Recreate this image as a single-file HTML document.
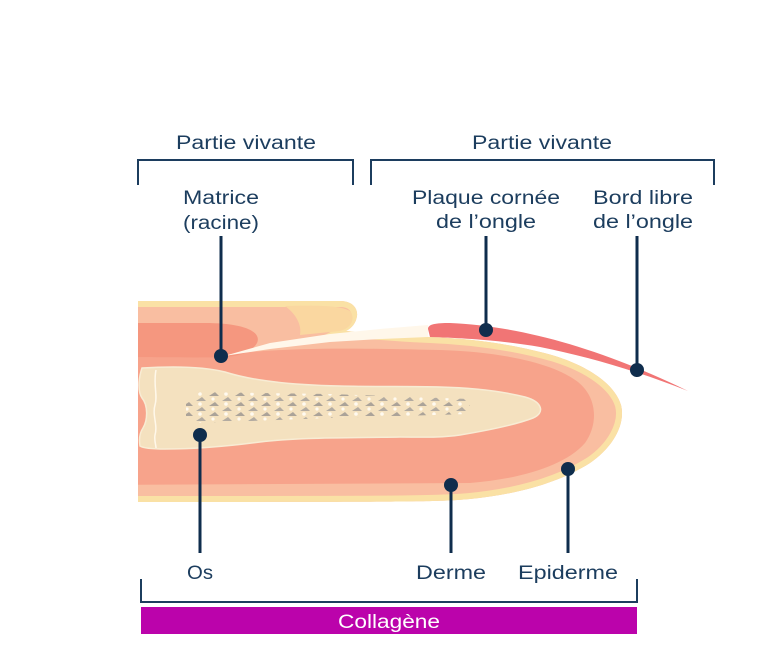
<!DOCTYPE html>
<html><head><meta charset="utf-8"><style>
html,body{margin:0;padding:0;background:#fff;}
svg{display:block;}
text{font-family:"Liberation Sans",Arial,sans-serif;}
</style></head><body>
<svg width="783" height="649" viewBox="0 0 783 649" xmlns="http://www.w3.org/2000/svg">
<defs>
<clipPath id="cut"><rect x="138" y="280" width="600" height="240"/></clipPath>
<clipPath id="bodyc"><path d="M100,301 L340,301 C352,301 358,308 357,316 C356,323 352,328 346,331 C380,334 400,336 430,337 C480,339 520,346 555,356 C590,367 615,385 621,405 C626,425 612,448 590,463 C560,482 520,494 470,499 C440,502 400,502 100,502 Z"/></clipPath>
<pattern id="sp" width="26" height="10" patternUnits="userSpaceOnUse">
<polygon points="1,6 7,2 11,6" fill="#aba399"/>
<circle cx="18" cy="4" r="1.8" fill="#fffaf0"/>
</pattern>
<pattern id="sp2" width="26" height="10" patternUnits="userSpaceOnUse" x="13" y="5">
<polygon points="1,6 7,2 11,6" fill="#b3aba1"/>
<circle cx="18" cy="4" r="1.6" fill="#fffaf0"/>
</pattern>
<clipPath id="spc"><polygon points="186,402 200,392 330,394 470,399 470,414 330,418 200,423 186,417"/></clipPath>
</defs>

<g clip-path="url(#cut)">
  <path d="M100,301 L340,301 C352,301 358,308 357,316 C356,323 352,328 346,331 C380,334 400,336 430,337 C480,339 520,346 555,356 C590,367 615,385 621,405 C626,425 612,448 590,463 C560,482 520,494 470,499 C440,502 400,502 100,502 Z" fill="#f9bea1"/>
  <g clip-path="url(#bodyc)">
    <path d="M100,301 L340,301 C352,301 358,308 357,316 C356,323 352,328 346,331 C380,334 400,336 430,337 C480,339 520,346 555,356 C590,367 615,385 621,405 C626,425 612,448 590,463 C560,482 520,494 470,499 C440,502 400,502 100,502 Z" fill="none" stroke="#fae1a5" stroke-width="12"/>
    <path d="M285,306 C320,305 345,306 351,312 C355,320 351,328 340,331 L300,335 C302,325 296,314 285,306 Z" fill="#fad7a0"/>
  </g>
  <path d="M100,343 C150,345 200,350 230,354 C300,346 380,349 440,350 C505,352 555,364 578,382 C598,398 598,425 585,443 C565,466 520,479 470,483 L100,485 Z" fill="#f7a38b"/>
  <path d="M100,323 L205,323 C245,323 262,332 257,343 C252,352 240,356 226,357 C200,358 150,357 100,357 Z" fill="#f5977f"/>
  <polygon points="224,356 270,343 330,334 380,329 428,325 428,337 380,339 330,342 270,349" fill="#fff7ea"/>
  <path d="M428,329 C428,324 436,323 450,323 C520,326 600,348 688,391 C640,372 590,357 540,347 C500,340 460,338 430,337 Z" fill="#f17575"/>
  <path d="M142,368 C175,366 205,367 225,372 C250,380 290,385 340,386 C380,387 410,386 440,387 C480,388 505,392 525,397 C543,402 545,413 533,418 C515,425 490,430 460,435 C440,438 420,437 400,437 C350,438 300,437 260,442 C230,446 200,449 165,449 C150,449 143,448 140,446 C139,440 139,434 143,428 C148,420 148,405 142,398 C138,392 138,380 142,368 Z" fill="#f4e1bf" stroke="#f8ecd4" stroke-width="1.5"/>
  <path d="M156,370 C153,385 158,395 155,405 C152,415 158,425 155,435 C154,440 156,445 156,448" fill="none" stroke="#fff8ea" stroke-width="1.5"/>
  <g clip-path="url(#spc)">
    <rect x="186" y="390" width="290" height="35" fill="url(#sp)"/>
    <rect x="186" y="390" width="290" height="35" fill="url(#sp2)"/>
  </g>
</g>

<g fill="#1c3d5e" font-size="19">
  <text x="176" y="149" textLength="140" lengthAdjust="spacingAndGlyphs">Partie vivante</text>
  <text x="472" y="149" textLength="140" lengthAdjust="spacingAndGlyphs">Partie vivante</text>
  <text x="183" y="204" textLength="76" lengthAdjust="spacingAndGlyphs">Matrice</text>
  <text x="183" y="229" textLength="76" lengthAdjust="spacingAndGlyphs">(racine)</text>
  <text x="412" y="204" textLength="148" lengthAdjust="spacingAndGlyphs">Plaque cornée</text>
  <text x="436" y="228" textLength="100" lengthAdjust="spacingAndGlyphs">de l’ongle</text>
  <text x="593" y="204" textLength="100" lengthAdjust="spacingAndGlyphs">Bord libre</text>
  <text x="593" y="228" textLength="100" lengthAdjust="spacingAndGlyphs">de l’ongle</text>
  <text x="187" y="579" textLength="26" lengthAdjust="spacingAndGlyphs">Os</text>
  <text x="416" y="579" textLength="70" lengthAdjust="spacingAndGlyphs">Derme</text>
  <text x="518" y="579" textLength="100" lengthAdjust="spacingAndGlyphs">Epiderme</text>
</g>

<g fill="none" stroke="#1c3d5e" stroke-width="2">
  <polyline points="138,185 138,160 353,160 353,185"/>
  <polyline points="371,185 371,160 714,160 714,185"/>
  <polyline points="141,579 141,602 637,602 637,579"/>
</g>

<g stroke="#0f2d4d" stroke-width="3">
  <line x1="221" y1="236" x2="221" y2="356"/>
  <line x1="486" y1="236" x2="486" y2="330"/>
  <line x1="637" y1="236" x2="637" y2="370"/>
  <line x1="200" y1="435" x2="200" y2="553"/>
  <line x1="451" y1="485" x2="451" y2="553"/>
  <line x1="568" y1="469" x2="568" y2="553"/>
</g>
<g fill="#0f2d4d">
  <circle cx="221" cy="356" r="7"/>
  <circle cx="486" cy="330" r="7"/>
  <circle cx="637" cy="370" r="7"/>
  <circle cx="200" cy="435" r="7"/>
  <circle cx="451" cy="485" r="7"/>
  <circle cx="568" cy="469" r="7"/>
</g>

<rect x="141" y="607" width="496" height="27" fill="#bb03ab"/>
<text x="338" y="628" fill="#ffffff" font-size="19" textLength="102" lengthAdjust="spacingAndGlyphs">Collagène</text>
</svg>
</body></html>
